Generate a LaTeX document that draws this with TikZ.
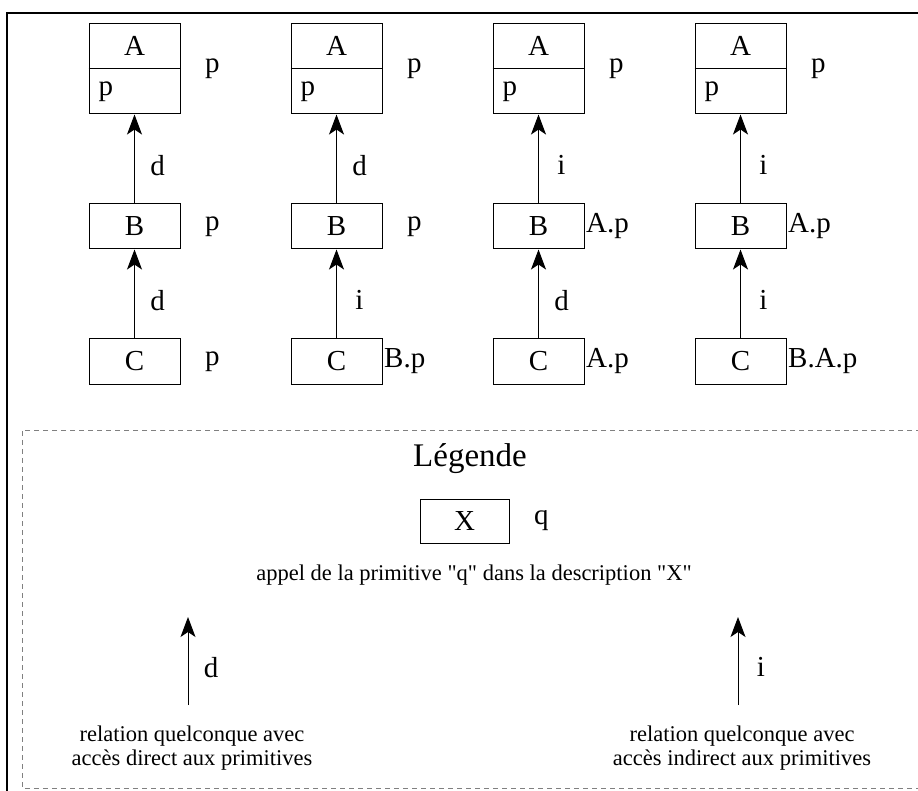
\documentclass[tikz,border=0pt]{standalone}
\usepackage{fontspec}
\setmainfont{Liberation Serif}[Ligatures=TeXOff]
\usetikzlibrary{arrows.meta, positioning}

\newcommand{\grand}{\fontsize{29}{32}\selectfont}
\newcommand{\petit}{\fontsize{22.5}{24}\selectfont}
\newcommand{\titre}{\fontsize{33}{36}\selectfont}

\tikzset{
  cls/.style = {draw, line width=1pt, minimum width=91pt, minimum height=90pt, inner sep=0pt},
  desc/.style = {draw, line width=1pt, minimum width=91pt, minimum height=45pt, inner sep=0pt},
  prim/.style = {anchor=west, inner sep=1.5pt},
  rel/.style = {-{Stealth[length=20pt, width=15pt, inset=5pt]}, line width=1pt},
  lab/.style = {pos=.43, xshift=23pt},
}

\begin{document}
\begin{tikzpicture} [x=1pt, y=-1pt, font=\grand, node distance=202pt, on grid]

\path [use as bounding box, clip] (0,0) rectangle (918,791);
\draw [line width=2pt] (930,13) -- (7,13) -- (7,800);
\draw [gray, line width=1pt, dash pattern=on 5pt off 4pt] (930,430) -- (22,430) -- (22,788) -- (930,788);

% descriptions A
\node (A1) [cls] at (134.5,69) {};
\node (A2) [cls, right = of A1] {};
\node (A3) [cls, right = of A2] {};
\node (A4) [cls, right = of A3] {};

\node (B1) [desc, below = 157.5pt of A1] {B};
\node (B2) [desc, below = 157.5pt of A2] {B};
\node (B3) [desc, below = 157.5pt of A3] {B};
\node (B4) [desc, below = 157.5pt of A4] {B};

\node (C1) [desc, below = 135pt of B1] {C};
\node (C2) [desc, below = 135pt of B2] {C};
\node (C3) [desc, below = 135pt of B3] {C};
\node (C4) [desc, below = 135pt of B4] {C};

% compartiments de A
\draw [line width=1pt] (A1.west) -- (A1.east) (A2.west) -- (A2.east)
  (A3.west) -- (A3.east) (A4.west) -- (A4.east);
\node (nA1) at ([yshift=-22.5pt]A1.north) {A};
\node (nA2) at ([yshift=-22.5pt]A2.north) {A};
\node (nA3) at ([yshift=-22.5pt]A3.north) {A};
\node (nA4) at ([yshift=-22.5pt]A4.north) {A};
\node (iA1) [anchor=west, inner sep=0pt] at ([xshift=10pt, yshift=-22.5pt]A1.west) {p};
\node (iA2) [anchor=west, inner sep=0pt] at ([xshift=10pt, yshift=-22.5pt]A2.west) {p};
\node (iA3) [anchor=west, inner sep=0pt] at ([xshift=10pt, yshift=-22.5pt]A3.west) {p};
\node (iA4) [anchor=west, inner sep=0pt] at ([xshift=10pt, yshift=-22.5pt]A4.west) {p};

% appels
\node (pA1) [right = 21pt of A1.east] {p};
\node (pA2) [right = 21pt of A2.east] {p};
\node (pA3) [right = 21pt of A3.east] {p};
\node (pA4) [right = 21pt of A4.east] {p};
\node (pB1) [right = 21pt of B1.east] {p};
\node (pB2) [right = 21pt of B2.east] {p};
\node (pB3) [prim] at (B3.east) {A.p};
\node (pB4) [prim] at (B4.east) {A.p};
\node (pC1) [right = 21pt of C1.east] {p};
\node (pC2) [prim] at (C2.east) {B.p};
\node (pC3) [prim] at (C3.east) {A.p};
\node (pC4) [prim] at (C4.east) {B.A.p};

\path [rel]
  (B1) edge node (r1) [lab] {d} (A1)
  (C1) edge node (s1) [lab] {d} (B1)
  (B2) edge node (r2) [lab] {d} (A2)
  (C2) edge node (s2) [lab] {i} (B2)
  (B3) edge node (r3) [lab] {i} (A3)
  (C3) edge node (s3) [lab] {d} (B3)
  (B4) edge node (r4) [lab] {i} (A4)
  (C4) edge node (s4) [lab] {i} (B4);

% legende
\node (leg) [font=\titre] at (470,459) {Légende};
\node (X) [desc, minimum width=89pt, minimum height=44pt] at (464.5,521) {X};
\node (qX) [right = 21pt of X.east] {q};
\node (appel) [font=\petit] at (474,575) {appel de la primitive "q" dans la description "X"};

\coordinate (dbas) at (188,705);
\coordinate (dhaut) at (188,617);
\coordinate (ibas) at (738,705);
\coordinate (ihaut) at (738,617);
\draw [rel] (dbas) -- node (ld) [lab] {d} (dhaut);
\draw [rel] (ibas) -- node (li) [lab] {i} (ihaut);

\node (reld) [font=\petit, align=center] at (192,748) {relation quelconque avec\\accès direct aux primitives};
\node (reli) [font=\petit, align=center] at (742,748) {relation quelconque avec\\accès indirect aux primitives};
\end{tikzpicture}
\end{document}
